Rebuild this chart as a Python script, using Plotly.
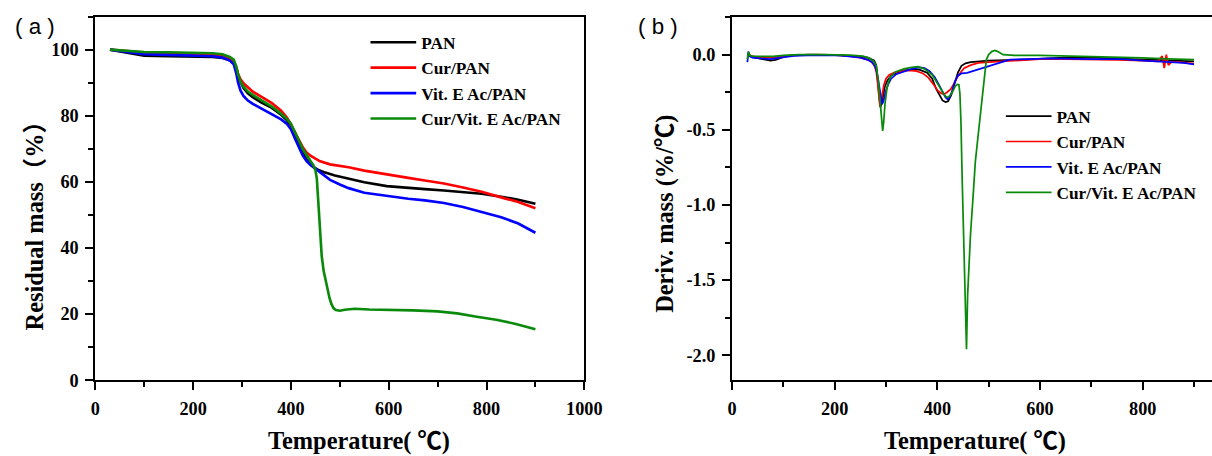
import plotly.graph_objects as go

# ---------------- data: panel (a) TGA ----------------
names = ["PAN", "Cur/PAN", "Vit. E Ac/PAN", "Cur/Vit. E Ac/PAN"]
colors = ["#000000", "#ff0000", "#0000ff", "#0a8a0a"]

tga_T_pan = [30, 60, 100, 150, 200, 240, 260, 275, 283, 288, 292, 297, 303, 312, 322, 340, 361, 380, 392, 400,
             408, 416, 424, 432, 440, 447, 455, 470, 490, 518, 550, 596, 640, 674, 713, 752, 790, 830, 865, 900]
tga_M_pan = [100, 99.3, 98.2, 98.0, 98.0, 97.8, 97.5, 96.8, 96.0, 94.5, 92.3, 90.2, 88.4, 86.8, 85.6, 84.0, 82.4, 80.3, 78.6, 77.0,
             74.2, 71.3, 68.7, 66.8, 65.4, 64.4, 63.7, 62.8, 61.9, 61.0, 59.9, 58.7, 58.1, 57.8, 57.4, 57.0, 56.4, 55.5, 54.6, 53.4]

tga_T_cur = [30, 60, 100, 150, 200, 240, 260, 275, 283, 288, 292, 297, 303, 312, 322, 340, 361, 380, 392, 400,
             408, 416, 424, 432, 440, 450, 460, 480, 518, 550, 596, 640, 674, 713, 752, 790, 830, 865, 900]
tga_M_cur = [100, 99.6, 99.1, 98.9, 98.8, 98.5, 98.1, 97.3, 96.5, 94.8, 92.6, 91.0, 89.8, 88.5, 87.3, 85.7, 83.8, 81.5, 79.4, 77.4,
             75.0, 72.7, 70.5, 68.9, 67.9, 67.0, 66.2, 65.3, 64.4, 63.4, 62.2, 61.2, 60.4, 59.5, 58.3, 57.0, 55.3, 53.9, 52.0]

tga_T_vit = [30, 60, 100, 150, 200, 240, 260, 275, 283, 288, 292, 297, 303, 312, 322, 340, 361, 380, 392, 400,
             408, 416, 424, 432, 440, 450, 460, 480, 500, 518, 550, 596, 640, 674, 713, 752, 790, 830, 865, 900]
tga_M_vit = [100, 99.4, 98.6, 98.4, 98.3, 98.0, 97.6, 96.7, 95.6, 93.0, 90.0, 87.6, 86.0, 84.6, 83.6, 82.1, 80.6, 78.9, 77.5, 75.9,
             73.2, 70.4, 68.0, 66.3, 65.1, 64.0, 62.8, 60.6, 59.2, 58.1, 56.7, 55.7, 54.9, 54.4, 53.6, 52.4, 50.9, 49.3, 47.4, 44.6]

tga_T_cvp = [30, 60, 100, 150, 200, 240, 260, 275, 283, 288, 292, 297, 303, 312, 322, 340, 361, 380, 392, 400,
             408, 416, 424, 432, 440, 446, 450, 453, 456, 459, 463, 467, 471, 475, 479, 483, 487, 492, 500, 510,
             530, 560, 600, 650, 700, 740, 780, 820, 860, 900]
tga_M_cvp = [100, 99.7, 99.3, 99.2, 99.1, 98.9, 98.6, 97.8, 97.0, 95.0, 92.5, 90.3, 88.8, 87.3, 86.3, 84.6, 82.8, 80.6, 79.0, 77.6,
             75.3, 72.6, 70.0, 68.0, 66.3, 65.0, 63.6, 61.0, 54.0, 46.0, 37.5, 33.0, 30.0, 27.5, 24.8, 23.0, 21.8, 21.2, 21.0, 21.3,
             21.6, 21.4, 21.3, 21.1, 20.8, 20.2, 19.2, 18.3, 17.0, 15.4]

# ---------------- data: panel (b) DTG ----------------
dtg_T_pan = [30, 33, 36, 45, 60, 75, 85, 100, 115, 150, 200, 240, 255, 265, 272, 277, 281, 284, 287, 289,
             291, 294, 298, 303, 310, 320, 335, 350, 365, 380, 390, 398, 405, 410, 416, 421, 427, 433, 440, 447,
             455, 465, 480, 500, 550, 600, 650, 700, 750, 800, 850, 900]
dtg_D_pan = [-0.01, 0.0, -0.01, -0.02, -0.03, -0.04, -0.035, -0.015, -0.005, 0.0, -0.003, -0.01, -0.015, -0.02, -0.03, -0.04, -0.07, -0.19, -0.31, -0.352,
             -0.33, -0.27, -0.21, -0.17, -0.14, -0.12, -0.105, -0.1, -0.1, -0.12, -0.16, -0.23, -0.28, -0.305, -0.315, -0.31, -0.27, -0.2, -0.12, -0.075,
             -0.058, -0.05, -0.045, -0.04, -0.035, -0.025, -0.02, -0.02, -0.025, -0.03, -0.035, -0.045]

dtg_T_cur = [30, 33, 36, 45, 60, 80, 100, 130, 170, 220, 250, 265, 272, 277, 281, 284, 286, 288, 290, 293,
             296, 300, 306, 316, 330, 345, 360, 372, 383, 393, 401, 408, 413, 419, 426, 433, 439, 446, 452, 465,
             480, 500, 530, 560, 600, 650, 700, 750, 800, 830, 838, 842, 846, 850, 856, 870, 900]
dtg_D_cur = [-0.01, 0.01, -0.01, -0.015, -0.02, -0.02, -0.01, -0.003, 0.0, -0.005, -0.02, -0.035, -0.05, -0.07, -0.11, -0.2, -0.28, -0.34, -0.32, -0.25,
             -0.2, -0.16, -0.135, -0.12, -0.11, -0.105, -0.11, -0.125, -0.155, -0.2, -0.24, -0.258, -0.264, -0.25, -0.23, -0.19, -0.15, -0.115, -0.09, -0.07,
             -0.055, -0.05, -0.045, -0.035, -0.03, -0.03, -0.03, -0.035, -0.04, -0.045, -0.01, -0.09, 0.0, -0.07, -0.05, -0.05, -0.06]

dtg_T_vit = [30, 32, 34, 40, 55, 75, 95, 120, 160, 210, 250, 265, 273, 279, 283, 287, 290, 292.5, 295, 299,
             304, 310, 320, 335, 350, 365, 375, 385, 395, 403, 410, 416, 420, 424, 429, 434, 440, 447, 458, 468,
             478, 490, 509, 541, 580, 620, 700, 760, 800, 850, 880, 900]
dtg_D_vit = [-0.05, 0.02, -0.01, -0.02, -0.025, -0.03, -0.02, -0.008, -0.003, -0.005, -0.02, -0.035, -0.05, -0.08, -0.13, -0.22, -0.3, -0.33, -0.31, -0.25,
             -0.2, -0.16, -0.13, -0.11, -0.095, -0.085, -0.09, -0.11, -0.15, -0.2, -0.25, -0.285, -0.297, -0.285, -0.24, -0.18, -0.14, -0.125, -0.121, -0.11,
             -0.1, -0.088, -0.066, -0.033, -0.03, -0.025, -0.03, -0.03, -0.04, -0.05, -0.055, -0.065]

dtg_T_cvp = [30, 32, 34, 40, 60, 80, 100, 130, 180, 230, 255, 268, 276, 281, 285, 289, 292, 293.5, 295.5, 298,
             302, 308, 318, 335, 350, 362, 375, 390, 400, 408, 414, 419, 424, 430, 435, 439, 442, 444, 446, 448.4,
             451.6, 454.8, 456.8, 459, 464.5, 469.7, 474, 478.7, 484, 490.3, 495.5, 500, 506, 512, 518, 528, 550, 600, 650, 700,
             750, 800, 850, 900]
dtg_D_cvp = [-0.03, 0.02, -0.005, -0.01, -0.012, -0.012, -0.005, 0.0, 0.0, -0.003, -0.01, -0.025, -0.045, -0.075, -0.17, -0.33, -0.47, -0.507, -0.45, -0.33,
             -0.22, -0.15, -0.115, -0.095, -0.085, -0.08, -0.095, -0.135, -0.19, -0.24, -0.27, -0.285, -0.275, -0.245, -0.21, -0.198, -0.2, -0.26, -0.45, -0.83,
             -1.27, -1.71, -1.96, -1.6, -1.2, -0.94, -0.714, -0.56, -0.38, -0.165, -0.033, 0.0, 0.02, 0.028, 0.02, 0.0, -0.005, -0.005, -0.008, -0.012,
             -0.018, -0.022, -0.028, -0.033]

# tick labels
a_xticks = [0, 200, 400, 600, 800, 1000]
a_yticks = [0, 20, 40, 60, 80, 100]
b_xticks = [0, 200, 400, 600, 800]
b_yticks = [0.0, -0.5, -1.0, -1.5, -2.0]
b_yticktext = ["0.0", "-0.5", "-1.0", "-1.5", "-2.0"]

# layout designed in reference pixels (1212 x 456); the page is photographed ~1.5 % smaller,
# so the whole figure is drawn at a matching enlargement K
RW, RH = 1212, 456
K = 1.015
W, H = round(RW * K), round(RH * K)
SERIF = "Liberation Serif"

def px(xp):
    return xp / RW

def py(yp):
    return 1 - yp / RH

def s(v):
    return v * K

tga = [(tga_T_pan, tga_M_pan), (tga_T_cur, tga_M_cur), (tga_T_vit, tga_M_vit), (tga_T_cvp, tga_M_cvp)]
dtg = [(dtg_T_pan, dtg_D_pan), (dtg_T_cur, dtg_D_cur), (dtg_T_vit, dtg_D_vit), (dtg_T_cvp, dtg_D_cvp)]

fig = go.Figure()
for (t, m), n, c in zip(tga, names, colors):
    fig.add_trace(go.Scatter(x=t, y=m, name=n, mode="lines", line=dict(color=c, width=s(2.6)),
                             xaxis="x", yaxis="y", legend="legend"))
for (t, d), n, c in zip(dtg, names, colors):
    fig.add_trace(go.Scatter(x=t, y=d, name=n, mode="lines", line=dict(color=c, width=s(1.7)),
                             xaxis="x2", yaxis="y2", legend="legend2"))

tickfont = dict(family=SERIF, size=s(18), color="black", weight="bold")
minor = dict(ticklen=s(5), tickwidth=s(1.5), tickcolor="black", ticks="outside")
axis_common = dict(showgrid=False, zeroline=False, showline=True, linecolor="black",
                   linewidth=s(1.6), ticks="outside", ticklen=s(8), tickwidth=s(1.5), tickcolor="black",
                   tickfont=tickfont, ticklabelstandoff=3)

yd = [py(382.7), py(16.7)]

fig.update_layout(
    width=W, height=H, margin=dict(l=0, r=0, t=0, b=0),
    plot_bgcolor="white", paper_bgcolor="white", showlegend=True,
    xaxis=dict(domain=[px(90.7), px(581.7)], range=[0, 1000], tickvals=a_xticks, anchor="y", mirror=True,
               minor=dict(dtick=100, **minor), **axis_common),
    yaxis=dict(domain=yd, range=[0, 110], tickvals=a_yticks, anchor="x", mirror=True,
               minor=dict(dtick=10, **minor), **axis_common),
    xaxis2=dict(domain=[px(730), 1.0], range=[0, 935], tickvals=b_xticks, anchor="y2", mirror=True,
                minor=dict(dtick=100, **minor), **axis_common),
    yaxis2=dict(domain=yd, range=[-2.166, 0.253], tickvals=b_yticks, ticktext=b_yticktext, anchor="x2",
                mirror=False, minor=dict(dtick=0.25, **minor), **axis_common),
    legend=dict(x=px(362), y=py(24.7), xanchor="left", yanchor="top", bgcolor="rgba(0,0,0,0)",
                font=dict(family=SERIF, size=s(17), color="black", weight="bold"), itemwidth=s(45), tracegroupgap=0),
    legend2=dict(x=px(1000), y=py(99), xanchor="left", yanchor="top", bgcolor="rgba(0,0,0,0)",
                 font=dict(family=SERIF, size=s(17), color="black", weight="bold"), itemwidth=s(45), tracegroupgap=0),
)

title_font = dict(family="Liberation Serif, Noto Sans CJK SC", size=s(24), color="black", weight="bold")
label_font = dict(family="Liberation Sans", size=s(22), color="black")
ann = [
    dict(text="Residual mass（%）", x=px(30), y=py(221), textangle=-90, font=title_font),
    dict(text="Deriv. mass (%/℃)", x=px(662), y=py(215), textangle=-90, font=title_font),
    dict(text="Temperature( ℃)", x=px(355), y=py(444), font=title_font),
    dict(text="Temperature( ℃)", x=px(974), y=py(444), font=title_font),
    dict(text="( a )", x=px(30.5), y=py(27), font=label_font),
    dict(text="( b )", x=px(656), y=py(27), font=label_font),
]
for a in ann:
    fig.add_annotation(xref="paper", yref="paper", xanchor="center", yanchor="middle", showarrow=False, **a)

fig.write_html("out.html")
